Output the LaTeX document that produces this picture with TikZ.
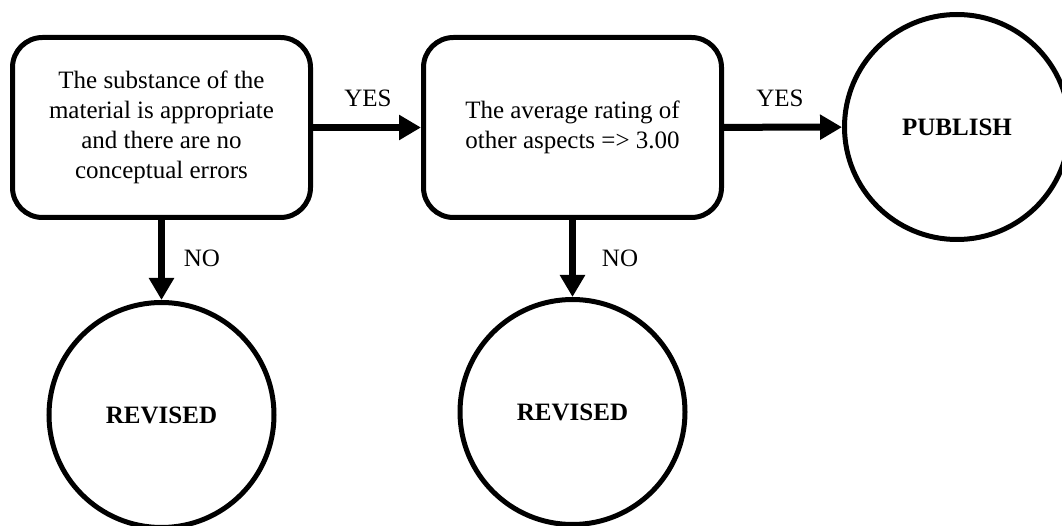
\documentclass[tikz,border=0pt]{standalone}
\usepackage{fontspec}
\setmainfont{Liberation Serif}
\usetikzlibrary{arrows.meta}
\begin{document}
\begin{tikzpicture}[x=1pt,y=1pt,
  box/.style={draw, line width=5pt, rounded corners=30pt, minimum width=298pt,
    minimum height=180pt, align=center, inner sep=0pt,
    font=\fontsize{25}{30}\selectfont},
  endcirc/.style={draw, circle, line width=5pt, minimum size=225pt, inner sep=0pt,
    font=\fontsize{25}{30}\selectfont\bfseries},
  flow/.style={line width=7pt, -{Triangle[length=22pt,width=24pt]}},
  lbl/.style={anchor=base, inner sep=0pt, font=\fontsize{25}{30}\selectfont}]
\useasboundingbox (0,0) rectangle (1062,-526);
\clip (0,0) rectangle (1062,-526);
\node[box] (b1) at (161.5,-127.5) {The substance of the\\material is appropriate\\and there are no\\conceptual errors};
\node[box] (b2) at (572.5,-127.5) {The average rating of\\other aspects => 3.00};
\node[endcirc] (pub) at (957,-127) {PUBLISH};
\node[endcirc] (r1) at (161.5,-415) {REVISED};
\node[endcirc] (r2) at (572.5,-412) {REVISED};
\draw[flow] (b1) -- (b2);
\draw[flow] (b2) -- (pub);
\draw[flow] (b1) -- (r1);
\draw[flow] (b2) -- (r2);
\node[lbl] (yes1) at (368,-107) {YES};
\node[lbl] (yes2) at (780,-107) {YES};
\node[lbl] (no1) at (202,-267) {NO};
\node[lbl] (no2) at (620,-267) {NO};
\end{tikzpicture}
\end{document}
